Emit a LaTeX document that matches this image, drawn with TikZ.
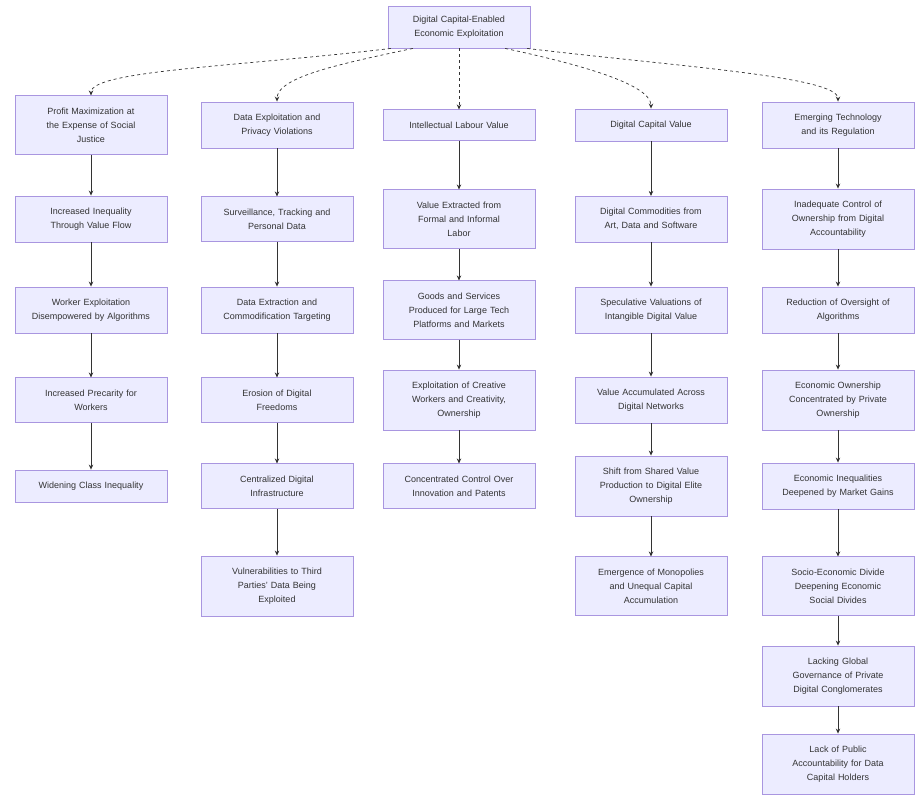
\documentclass[tikz,border=0pt]{standalone}
\usepackage{fontspec}
\setmainfont{Liberation Sans}
\usetikzlibrary{arrows.meta}
\definecolor{boxfill}{HTML}{ECECFF}
\definecolor{boxline}{HTML}{A996E0}
\definecolor{inkgrey}{HTML}{333333}

\begin{document}
\begin{tikzpicture}
	[
		x=1pt, y=-1pt,
		every node/.style = {shape=rectangle, align=center, draw=boxline, line width=0.5pt, fill=boxfill, text=inkgrey, font=\fontsize{9}{14}\selectfont, text width=132pt, inner xsep=10pt, inner ysep=12pt},
		link/.style = {draw=inkgrey, line width=0.7pt, -{Stealth[length=5pt,width=4.5pt]}},
		fan/.style = {link, dashed},
	]
  \useasboundingbox (0,0) rectangle (916,800);

  \node[text width=122pt, inner ysep=10pt] (D) at (459,27) {Digital Capital-Enabled\\Economic Exploitation};

  % profit column
  \node (A1) at (91,125) {Profit Maximization at\\the Expense of Social\\Justice};
  \node (A2) at (91,219) {Increased Inequality\\Through Value Flow};
  \node (A3) at (91,310) {Worker Exploitation\\Disempowered by Algorithms};
  \node (A4) at (91,400) {Increased Precarity for\\Workers};
  \node (A5) at (91,486) {Widening Class Inequality};

  % data column
  \node (B1) at (277,125) {Data Exploitation and\\Privacy Violations};
  \node (B2) at (277,219) {Surveillance, Tracking and\\Personal Data};
  \node (B3) at (277,310) {Data Extraction and\\Commodification Targeting};
  \node (B4) at (277,400) {Erosion of Digital\\Freedoms};
  \node (B5) at (277,486) {Centralized Digital\\Infrastructure};
  \node (B6) at (277,586) {Vulnerabilities to Third\\Parties' Data Being\\Exploited};

  % labour column
  \node (C1) at (459,125) {Intellectual Labour Value};
  \node (C2) at (459,219) {Value Extracted from\\Formal and Informal\\Labor};
  \node (C3) at (459,310) {Goods and Services\\Produced for Large Tech\\Platforms and Markets};
  \node (C4) at (459,400) {Exploitation of Creative\\Workers and Creativity,\\Ownership};
  \node (C5) at (459,486) {Concentrated Control Over\\Innovation and Patents};

  % capital column
  \node (E1) at (651,125) {Digital Capital Value};
  \node (E2) at (651,219) {Digital Commodities from\\Art, Data and Software};
  \node (E3) at (651,310) {Speculative Valuations of\\Intangible Digital Value};
  \node (E4) at (651,400) {Value Accumulated Across\\Digital Networks};
  \node (E5) at (651,486) {Shift from Shared Value\\Production to Digital Elite\\Ownership};
  \node (E6) at (651,586) {Emergence of Monopolies\\and Unequal Capital\\Accumulation};

  % regulation column
  \node (F1) at (838,125) {Emerging Technology\\and its Regulation};
  \node (F2) at (838,219) {Inadequate Control of\\Ownership from Digital\\Accountability};
  \node (F3) at (838,310) {Reduction of Oversight of\\Algorithms};
  \node (F4) at (838,400) {Economic Ownership\\Concentrated by Private\\Ownership};
  \node (F5) at (838,486) {Economic Inequalities\\Deepened by Market Gains};
  \node (F6) at (838,586) {Socio-Economic Divide\\Deepening Economic\\Social Divides};
  \node (F7) at (838,676) {Lacking Global\\Governance of Private\\Digital Conglomerates};
  \node (F8) at (838,764) {Lack of Public\\Accountability for Data\\Capital Holders};

  \draw[fan] ([xshift=3pt]D.south west) .. controls +(-150,18) and +(0,-25) .. (A1.north);
  \draw[fan] ([xshift=25pt]D.south west) .. controls +(-70,15) and +(0,-25) .. (B1.north);
  \draw[fan] (D) -- (C1);
  \draw[fan] ([xshift=-25pt]D.south east) .. controls +(70,15) and +(0,-25) .. (E1.north);
  \draw[fan] ([xshift=-3pt]D.south east) .. controls +(150,18) and +(0,-25) .. (F1.north);

  \path[link]
  (A1) edge (A2) (A2) edge (A3) (A3) edge (A4) (A4) edge (A5)
  (B1) edge (B2) (B2) edge (B3) (B3) edge (B4) (B4) edge (B5) (B5) edge (B6)
  (C1) edge (C2) (C2) edge (C3) (C3) edge (C4) (C4) edge (C5)
  (E1) edge (E2) (E2) edge (E3) (E3) edge (E4) (E4) edge (E5) (E5) edge (E6)
  (F1) edge (F2) (F2) edge (F3) (F3) edge (F4) (F4) edge (F5) (F5) edge (F6)
  (F6) edge (F7) (F7) edge (F8);

\end{tikzpicture}
\end{document}
